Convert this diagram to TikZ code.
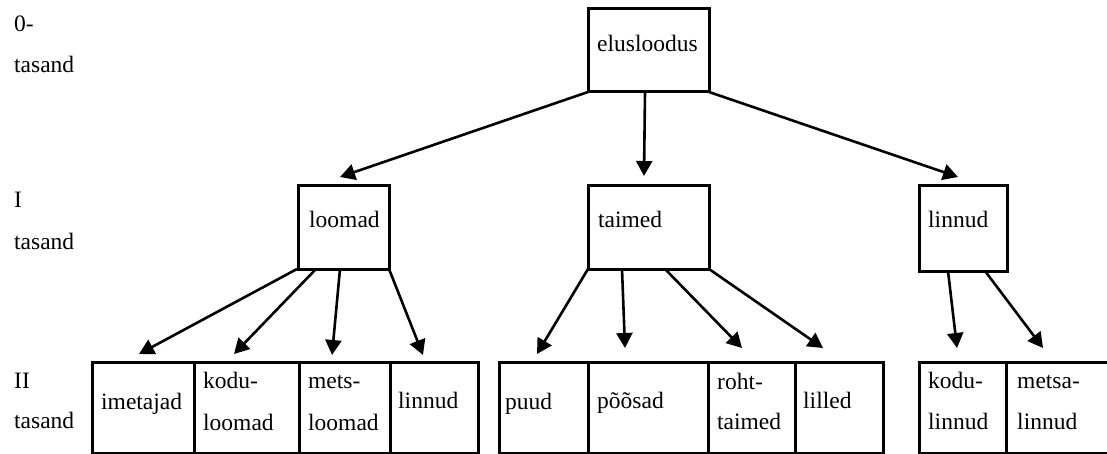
\documentclass[tikz,border=0pt]{standalone}
\usepackage{fontspec}
\setmainfont{Liberation Serif}
\usetikzlibrary{arrows.meta,calc}
\begin{document}
\begin{tikzpicture}[x=1pt,y=-1pt,
  box/.style={draw=black,line width=3pt,rectangle,inner sep=0pt,outer sep=0pt,anchor=north west},
  txt/.style={inner sep=0pt,anchor=base west,font=\fontsize{23.5}{42}\selectfont},
  arr/.style={line width=2.6pt,-{Triangle[length=15pt,width=16pt]}}]
\clip (0,0) rectangle (1107,454);
% level labels
\node[txt] (l0a) at (14,32) {0-};
\node[txt] (l0b) at (14,73) {tasand};
\node[txt] (l1a) at (14,208) {I};
\node[txt] (l1b) at (14,250) {tasand};
\node[txt] (l2a) at (14,388) {II};
\node[txt] (l2b) at (14,428) {tasand};
% level 0
\node[box,minimum width=121pt,minimum height=83pt] (elus) at (588,9) {};
\node[txt] (telus) at (597,52) {elusloodus};
% level I
\node[box,minimum width=91pt,minimum height=83pt] (loom) at (298,186) {};
\node[txt] (tloom) at (309,228) {loomad};
\node[box,minimum width=121pt,minimum height=83pt] (taim) at (588,186) {};
\node[txt] (ttaim) at (598,228) {taimed};
\node[box,minimum width=88pt,minimum height=85pt] (linn) at (919,186) {};
\node[txt] (tlinn) at (928,228) {linnud};
% level II boxes
\node[box,minimum width=102pt,minimum height=91pt] (b1) at (92,362) {};
\node[box,minimum width=105pt,minimum height=91pt] (b2) at (194,362) {};
\node[box,minimum width=91pt,minimum height=91pt] (b3) at (299,362) {};
\node[box,minimum width=88pt,minimum height=91pt] (b4) at (390,362) {};
\node[box,minimum width=89pt,minimum height=91pt] (b5) at (499,362) {};
\node[box,minimum width=120pt,minimum height=91pt] (b6) at (588,362) {};
\node[box,minimum width=87pt,minimum height=91pt] (b7) at (708,362) {};
\node[box,minimum width=88pt,minimum height=91pt] (b8) at (795,362) {};
\node[box,minimum width=87pt,minimum height=91pt] (b9) at (919,362) {};
\node[box,minimum width=104pt,minimum height=91pt] (b10) at (1006,362) {};
% level II texts
\node[txt] (t1) at (101,409) {imetajad};
\node[txt] (t2a) at (203,388) {kodu-};
\node[txt] (t2b) at (203,430) {loomad};
\node[txt] (t3a) at (308,388) {mets-};
\node[txt] (t3b) at (308,430) {loomad};
\node[txt] (t4) at (398,408) {linnud};
\node[txt] (t5) at (505,409) {puud};
\node[txt] (t6) at (597,408) {põõsad};
\node[txt] (t7a) at (717,389) {roht-};
\node[txt] (t7b) at (717,429) {taimed};
\node[txt] (t8) at (803,408) {lilled};
\node[txt] (t9a) at (928,388) {kodu-};
\node[txt] (t9b) at (928,429) {linnud};
\node[txt] (t10a) at (1017,388) {metsa-};
\node[txt] (t10b) at (1017,429) {linnud};
% arrow tips
\coordinate (e1) at (340,177);
\coordinate (e2) at (644,176);
\coordinate (e3) at (958,177);
\coordinate (a1) at (139,354);
\coordinate (a2) at (234,354);
\coordinate (a3) at (332,355);
\coordinate (a4) at (423,355);
\coordinate (a5) at (537,354);
\coordinate (a6) at (625,348);
\coordinate (a7) at (742,348);
\coordinate (a8) at (823,348);
\coordinate (a9) at (957,348);
\coordinate (a10) at (1043,348);
% connectors
\draw[arr] (elus.south west) -- (e1);
\draw[arr] ($(elus.south west)+(57,0)$) -- (e2);
\draw[arr] (elus.south east) -- (e3);
\draw[arr] ($(loom.south west)+(-1,0)$) -- (a1);
\draw[arr] ($(loom.south west)+(18,0)$) -- (a2);
\draw[arr] ($(loom.south west)+(42,0)$) -- (a3);
\draw[arr] (loom.south east) -- (a4);
\draw[arr] (taim.south west) -- (a5);
\draw[arr] ($(taim.south west)+(34,0)$) -- (a6);
\draw[arr] ($(taim.south west)+(77,0)$) -- (a7);
\draw[arr] (taim.south east) -- (a8);
\draw[arr] ($(linn.south west)+(29,0)$) -- (a9);
\draw[arr] ($(linn.south west)+(66,0)$) -- (a10);
\end{tikzpicture}
\end{document}
